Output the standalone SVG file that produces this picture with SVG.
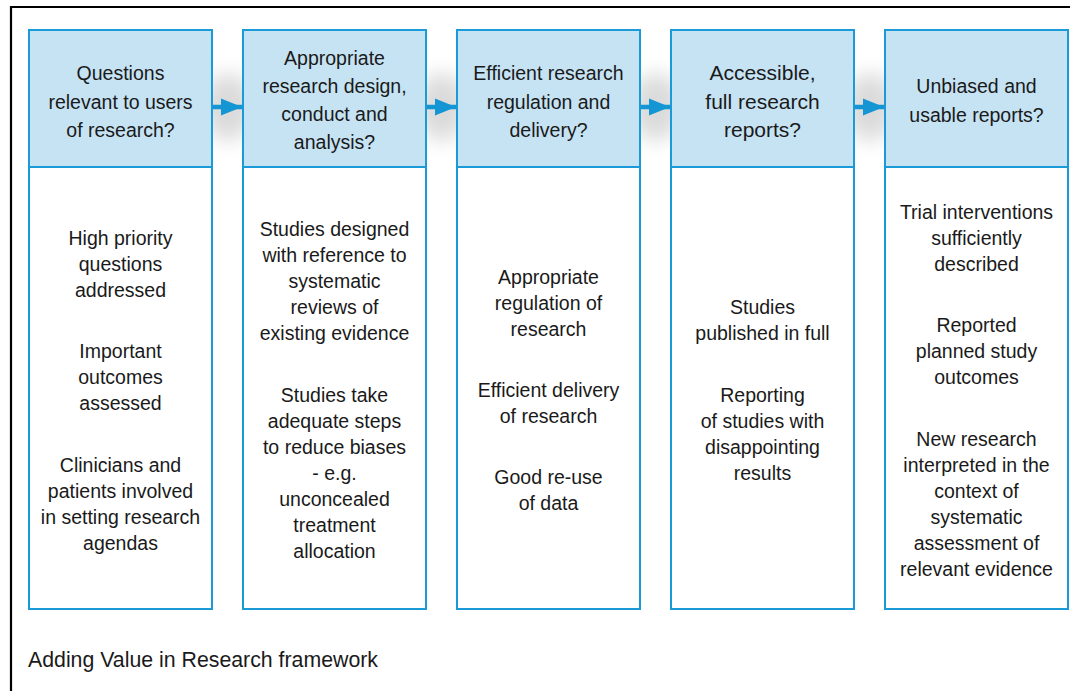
<svg xmlns="http://www.w3.org/2000/svg" width="1070" height="691" viewBox="0 0 1070 691">
<style>
.hd{fill:#c6e3f4;stroke:#1a9ad6;stroke-width:2}
.bd{fill:#ffffff;stroke:#1a9ad6;stroke-width:2}
.t{font-family:"Liberation Sans",Arial,sans-serif;font-size:19.5px;fill:#1a1a1a;text-anchor:middle}
.th{font-family:"Liberation Sans",Arial,sans-serif;font-size:19.5px;fill:#1a1a1a;text-anchor:middle}
.cap{font-family:"Liberation Sans",Arial,sans-serif;font-size:21.3px;fill:#1a1a1a}
.ln{stroke:#1596d4;stroke-width:4.5;fill:none}
.glow{fill:#000;opacity:0.14;filter:url(#blur)}
</style>
<defs>
<filter id="blur" x="-100%" y="-100%" width="300%" height="300%"><feGaussianBlur stdDeviation="10"/></filter>
<marker id="ah" viewBox="0 0 10 10" refX="10" refY="5" markerWidth="4.7" markerHeight="3.8" markerUnits="strokeWidth" orient="auto" preserveAspectRatio="none"><path d="M0,0 L10,5 L0,10 Z" fill="#1596d4"/></marker>
</defs>
<rect x="0" y="0" width="1070" height="691" fill="#ffffff"/>
<path d="M11,691 V7 H1070" fill="none" stroke="#000" stroke-width="2.2"/>
<g id="glows">
<ellipse class="glow" cx="228" cy="107" rx="26" ry="34"/>
<ellipse class="glow" cx="442" cy="107" rx="26" ry="34"/>
<ellipse class="glow" cx="656" cy="107" rx="26" ry="34"/>
<ellipse class="glow" cx="870" cy="107" rx="26" ry="34"/>
</g>
<g id="node1">
<rect class="bd" x="29" y="167" width="183" height="442"/>
<rect class="hd" x="29" y="30" width="183" height="137"/>
<text class="th" x="120.5" y="80">Questions</text>
<text class="th" x="120.5" y="108.5">relevant to users</text>
<text class="th" x="120.5" y="137">of research?</text>
<text class="t" x="120.5" y="245">High priority</text>
<text class="t" x="120.5" y="271">questions</text>
<text class="t" x="120.5" y="297">addressed</text>
<text class="t" x="120.5" y="358">Important</text>
<text class="t" x="120.5" y="384">outcomes</text>
<text class="t" x="120.5" y="410">assessed</text>
<text class="t" x="120.5" y="472">Clinicians and</text>
<text class="t" x="120.5" y="498">patients involved</text>
<text class="t" x="120.5" y="524">in setting research</text>
<text class="t" x="120.5" y="550">agendas</text>
</g>
<g id="node2">
<rect class="bd" x="243" y="167" width="183" height="442"/>
<rect class="hd" x="243" y="30" width="183" height="137"/>
<text class="th" x="334.5" y="65">Appropriate</text>
<text class="th" x="334.5" y="93">research design,</text>
<text class="th" x="334.5" y="121">conduct and</text>
<text class="th" x="334.5" y="149">analysis?</text>
<text class="t" x="334.5" y="236">Studies designed</text>
<text class="t" x="334.5" y="262">with reference to</text>
<text class="t" x="334.5" y="288">systematic</text>
<text class="t" x="334.5" y="314">reviews of</text>
<text class="t" x="334.5" y="340">existing evidence</text>
<text class="t" x="334.5" y="402">Studies take</text>
<text class="t" x="334.5" y="428">adequate steps</text>
<text class="t" x="334.5" y="454">to reduce biases</text>
<text class="t" x="334.5" y="480">- e.g.</text>
<text class="t" x="334.5" y="506">unconcealed</text>
<text class="t" x="334.5" y="532">treatment</text>
<text class="t" x="334.5" y="558">allocation</text>
</g>
<g id="node3">
<rect class="bd" x="457" y="167" width="183" height="442"/>
<rect class="hd" x="457" y="30" width="183" height="137"/>
<text class="th" x="548.5" y="80">Efficient research</text>
<text class="th" x="548.5" y="108.5">regulation and</text>
<text class="th" x="548.5" y="137">delivery?</text>
<text class="t" x="548.5" y="284">Appropriate</text>
<text class="t" x="548.5" y="310">regulation of</text>
<text class="t" x="548.5" y="336">research</text>
<text class="t" x="548.5" y="397">Efficient delivery</text>
<text class="t" x="548.5" y="423">of research</text>
<text class="t" x="548.5" y="484">Good re-use</text>
<text class="t" x="548.5" y="510">of data</text>
</g>
<g id="node4">
<rect class="bd" x="671" y="167" width="183" height="442"/>
<rect class="hd" x="671" y="30" width="183" height="137"/>
<text class="th" x="762.5" y="80" style="font-size:21px">Accessible,</text>
<text class="th" x="762.5" y="108.5" style="font-size:21px">full research</text>
<text class="th" x="762.5" y="137" style="font-size:21px">reports?</text>
<text class="t" x="762.5" y="314">Studies</text>
<text class="t" x="762.5" y="340">published in full</text>
<text class="t" x="762.5" y="402">Reporting</text>
<text class="t" x="762.5" y="428">of studies with</text>
<text class="t" x="762.5" y="454">disappointing</text>
<text class="t" x="762.5" y="480">results</text>
</g>
<g id="node5">
<rect class="bd" x="885" y="167" width="183" height="442"/>
<rect class="hd" x="885" y="30" width="183" height="137"/>
<text class="th" x="976.5" y="93">Unbiased and</text>
<text class="th" x="976.5" y="121.5">usable reports?</text>
<text class="t" x="976.5" y="219">Trial interventions</text>
<text class="t" x="976.5" y="245">sufficiently</text>
<text class="t" x="976.5" y="271">described</text>
<text class="t" x="976.5" y="332">Reported</text>
<text class="t" x="976.5" y="358">planned study</text>
<text class="t" x="976.5" y="384">outcomes</text>
<text class="t" x="976.5" y="446">New research</text>
<text class="t" x="976.5" y="472">interpreted in the</text>
<text class="t" x="976.5" y="498">context of</text>
<text class="t" x="976.5" y="524">systematic</text>
<text class="t" x="976.5" y="550">assessment of</text>
<text class="t" x="976.5" y="576">relevant evidence</text>
</g>
<g id="connectors">
<line class="ln" x1="213" y1="107" x2="242" y2="107" marker-end="url(#ah)"/>
<line class="ln" x1="427" y1="107" x2="456" y2="107" marker-end="url(#ah)"/>
<line class="ln" x1="641" y1="107" x2="670" y2="107" marker-end="url(#ah)"/>
<line class="ln" x1="855" y1="107" x2="884" y2="107" marker-end="url(#ah)"/>
</g>
<text class="cap" x="28" y="667">Adding Value in Research framework</text>
</svg>
